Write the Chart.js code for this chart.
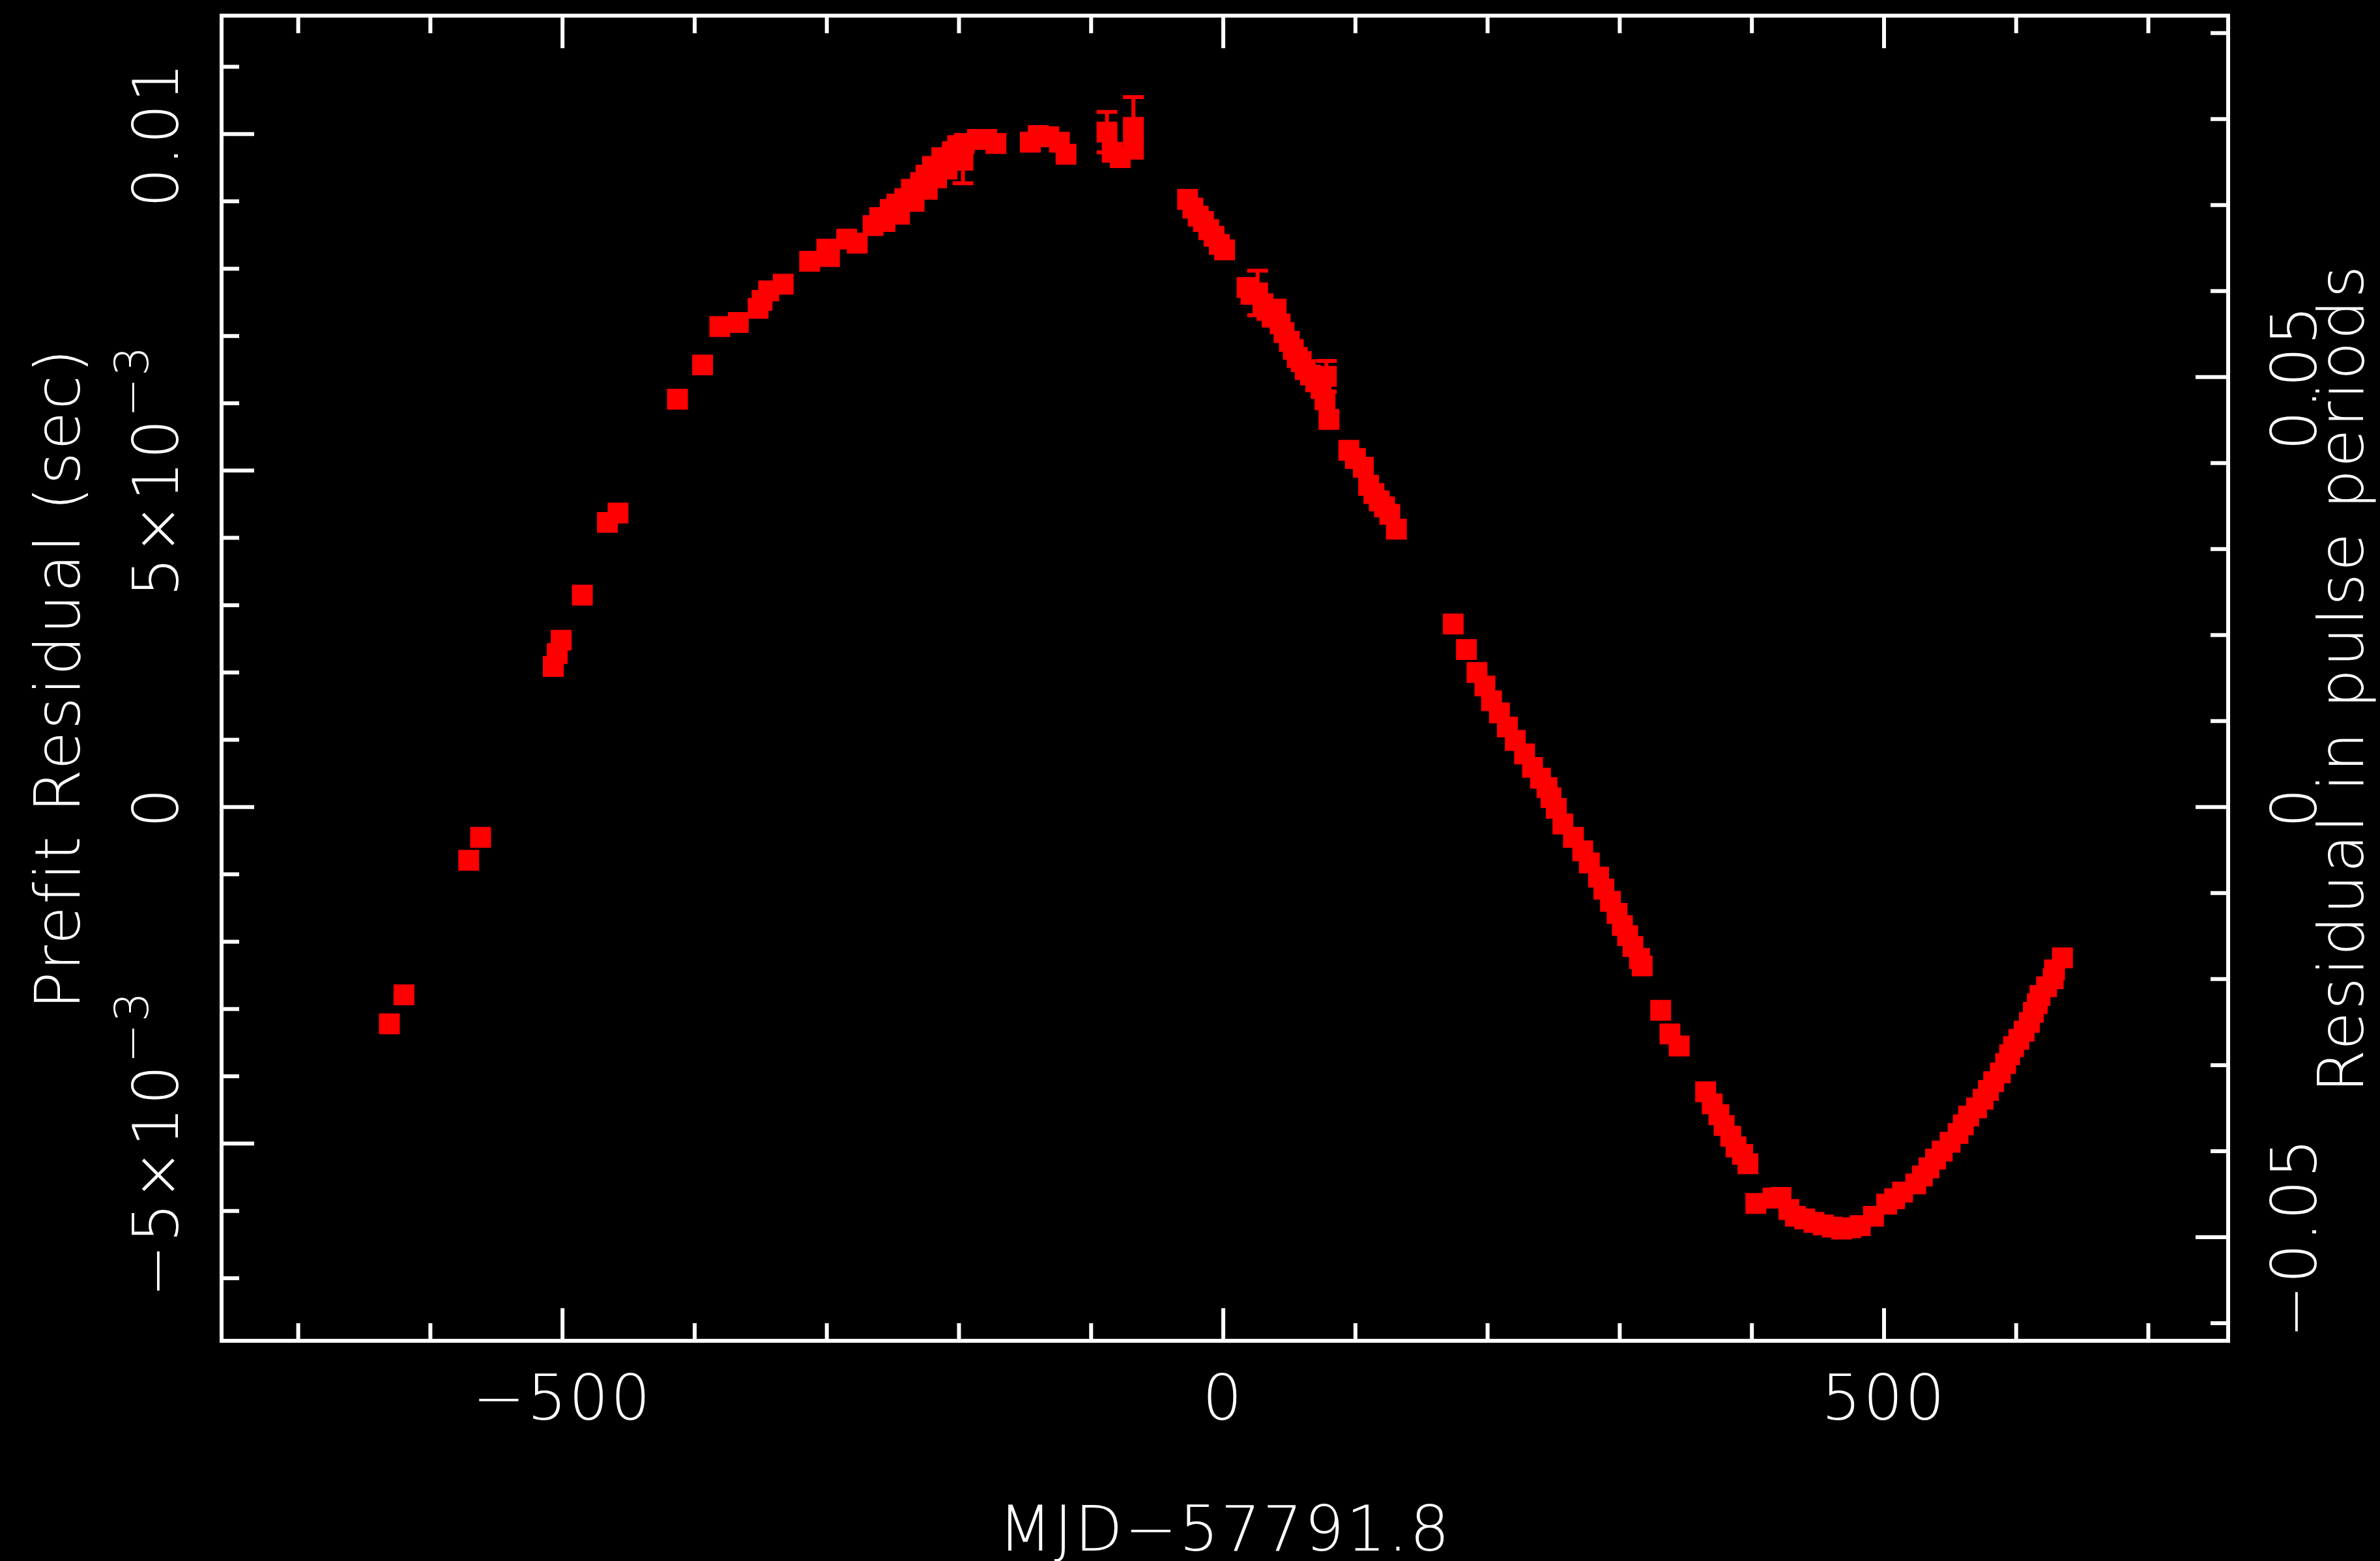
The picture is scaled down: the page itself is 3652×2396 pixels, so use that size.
<!DOCTYPE html>
<html>
<head>
<meta charset="utf-8">
<script src="https://cdn.jsdelivr.net/npm/chart.js@4.4.1/dist/chart.umd.min.js"></script>
<style>
  html, body { margin: 0; padding: 0; background: #000; }
  canvas { display: block; }
</style>
</head>
<body>
<canvas id="residualChart" width="3652" height="2396"></canvas>
<script>
// days relative to MJD 57791.8
const mjdOffset = [
  -631, -620, -571, -562, -507, -504, -501, -485,
  -466, -458, -413, -394, -381, -367, -352, -349,
  -344, -333, -313, -300, -298, -285, -277, -265,
  -260, -256, -252, -247, -245, -241, -236, -234,
  -229, -225, -224, -220, -217, -213, -209, -205,
  -201, -196, -186, -179, -172, -146, -140, -132,
  -124, -119, -84, -78, -68, -27, -23, -19,
  -15, -11, -7, -3, 1, 18, 21, 30,
  33, 37, 40, 43, 46, 50, 53, 56,
  59, 62, 66, 70, 74, 77, 80, 95,
  100, 106, 110, 114, 118, 122, 126, 131,
  174, 184, 192, 198, 203, 209, 215, 221,
  228, 234, 240, 245, 248, 252, 257, 265,
  272, 277, 284, 288, 293, 298, 302, 306,
  310, 315, 317, 331, 338, 345, 365, 370,
  375, 379, 384, 388, 393, 397, 403, 416,
  422, 428, 433, 440, 447, 454, 461, 468,
  475, 482, 492, 502, 508, 514, 524, 529,
  534, 539, 544, 550, 556, 560, 564, 570,
  575, 579, 583, 588, 592, 595, 598, 602,
  606, 610, 613, 616, 618, 623, 628, 629,
  635
];

// prefit residual, seconds
const prefitResidual = [
  -0.00322, -0.00279, -0.00079, -0.00045, 0.00209, 0.00228, 0.00248, 0.00315,
  0.00423, 0.00437, 0.00606, 0.00657, 0.00714, 0.00720, 0.00741, 0.00753,
  0.00767, 0.00777, 0.00811, 0.00829, 0.00818, 0.00844, 0.00838, 0.00864,
  0.00876, 0.00870, 0.00888, 0.00896, 0.00881, 0.00904, 0.00918, 0.00900,
  0.00928, 0.00939, 0.00918, 0.00952, 0.00935, 0.00965, 0.00948, 0.00974,
  0.00983, 0.00986, 0.00992, 0.00992, 0.00986, 0.00988, 0.00998, 0.00996,
  0.00988, 0.00970, 0.00973, 0.00965, 0.00980, 0.00903, 0.00890, 0.00878,
  0.00870, 0.00858, 0.00848, 0.00836, 0.00828, 0.00772, 0.00762, 0.00748,
  0.00738, 0.00728, 0.00740, 0.00718, 0.00705, 0.00692, 0.00680, 0.00668,
  0.00662, 0.00650, 0.00642, 0.00632, 0.00622, 0.00605, 0.00576, 0.00530,
  0.00518, 0.00505, 0.00478, 0.00466, 0.00455, 0.00446, 0.00435, 0.00413,
  0.00272, 0.00234, 0.00200, 0.00180, 0.00158, 0.00140, 0.00119, 0.00099,
  0.00079, 0.00059, 0.00043, 0.00029, 0.00014, -0.00002, -0.00025, -0.00045,
  -0.00065, -0.00083, -0.00104, -0.00122, -0.00140, -0.00158, -0.00176, -0.00191,
  -0.00207, -0.00225, -0.00236, -0.00302, -0.00337, -0.00355, -0.00423, -0.00441,
  -0.00457, -0.00473, -0.00489, -0.00505, -0.00516, -0.00530, -0.00589, -0.00581,
  -0.00580, -0.00598, -0.00608, -0.00612, -0.00617, -0.00621, -0.00624, -0.00627,
  -0.00625, -0.00622, -0.00608, -0.00590, -0.00582, -0.00572, -0.00560, -0.00548,
  -0.00536, -0.00523, -0.00511, -0.00498, -0.00485, -0.00472, -0.00459, -0.00447,
  -0.00434, -0.00421, -0.00408, -0.00395, -0.00381, -0.00368, -0.00356, -0.00345,
  -0.00333, -0.00320, -0.00305, -0.00292, -0.00280, -0.00267, -0.00255, -0.00242,
  -0.00224
];

// TOAs whose error bars stick out of the marker
const errMjd = [-197, -88, -68, 26, 78];
const errResidual = [0.00961, 0.01003, 0.01010, 0.00764, 0.00640];
const errSize = [0.00034, 0.00030, 0.00045, 0.00033, 0.00023];

const xMajorTicks = [-500, 0, 500];
const xMinorTicks = [-700, -600, -400, -300, -200, -100, 100, 200, 300, 400, 600, 700];
const xTickLabels = ['\u2212500', '0', '500'];

const yMajorTicks = [-0.005, 0, 0.005, 0.01];
const yMinorTicks = [-0.007, -0.006, -0.004, -0.003, -0.002, -0.001, 0.001, 0.002,
  0.003, 0.004, 0.006, 0.007, 0.008, 0.009, 0.011];
const yTickLabels = ['\u22125\u00d710^\u22123', '0', '5\u00d710^\u22123', '0.01'];

const periodMajorTicks = [-0.05, 0, 0.05];
const periodMinorTicks = [-0.06, -0.04, -0.03, -0.02, -0.01, 0.01, 0.02, 0.03, 0.04,
  0.06, 0.07, 0.08, 0.09];
const periodTickLabels = ['\u22120.05', '0', '0.05'];

const pulsePeriod = 0.1278;
const xRange = [-758, 760.4];
const yRange = [-0.00793, 0.01176];

const RED = '#ff0000';
const WHITE = '#ffffff';
const FONT_FAMILY = '"DejaVu Sans", "Liberation Sans", sans-serif';
const mainFont = '200 96px ' + FONT_FAMILY;
const supFont = '200 72px ' + FONT_FAMILY;

// label text with an optional ^superscript, centred on (x, y)
function drawLabel(ctx, text, x, y, rotated) {
  const parts = text.split('^');
  ctx.save();
  ctx.translate(x, y);
  if (rotated) ctx.rotate(-Math.PI / 2);
  ctx.textAlign = 'left';
  ctx.textBaseline = 'alphabetic';
  ctx.letterSpacing = '3px';
  ctx.font = mainFont;
  const wBase = ctx.measureText(parts[0]).width;
  let wSup = 0;
  if (parts[1]) {
    ctx.font = supFont;
    wSup = ctx.measureText(parts[1]).width;
  }
  const start = -(wBase + wSup) / 2;
  ctx.font = mainFont;
  ctx.fillText(parts[0], start, 0);
  if (parts[1]) {
    ctx.font = supFont;
    ctx.fillText(parts[1], start + wBase, -46);
  }
  ctx.restore();
}

const pgplotBox = {
  id: 'pgplotBox',
  beforeDraw(chart) {
    const ctx = chart.ctx;
    ctx.save();
    ctx.fillStyle = '#000';
    ctx.fillRect(0, 0, chart.width, chart.height);
    ctx.restore();
  },
  afterDatasetsDraw(chart) {
    const { ctx, scales: { x, y } } = chart;
    ctx.save();
    ctx.strokeStyle = RED;
    ctx.lineWidth = 6;
    errMjd.forEach((m, i) => {
      const px = x.getPixelForValue(m);
      const top = y.getPixelForValue(errResidual[i] + errSize[i]);
      const bot = y.getPixelForValue(errResidual[i] - errSize[i]);
      ctx.beginPath();
      ctx.moveTo(px, top);
      ctx.lineTo(px, bot);
      ctx.moveTo(px - 16, top);
      ctx.lineTo(px + 16, top);
      ctx.moveTo(px - 16, bot);
      ctx.lineTo(px + 16, bot);
      ctx.stroke();
    });
    ctx.restore();
  },
  afterDraw(chart) {
    const { ctx, chartArea: a, scales: { x, y, y2 } } = chart;
    const minorLen = 27;
    const majorLen = 50;
    ctx.save();
    ctx.strokeStyle = WHITE;
    ctx.lineWidth = 6;
    ctx.lineCap = 'butt';
    ctx.strokeRect(a.left, a.top, a.right - a.left, a.bottom - a.top);

    ctx.beginPath();
    const xTick = (v, len) => {
      const px = x.getPixelForValue(v);
      ctx.moveTo(px, a.bottom); ctx.lineTo(px, a.bottom - len);
      ctx.moveTo(px, a.top); ctx.lineTo(px, a.top + len);
    };
    xMinorTicks.forEach(v => xTick(v, minorLen));
    xMajorTicks.forEach(v => xTick(v, majorLen));
    const yTick = (v, len) => {
      const py = y.getPixelForValue(v);
      ctx.moveTo(a.left, py); ctx.lineTo(a.left + len, py);
    };
    yMinorTicks.forEach(v => yTick(v, minorLen));
    yMajorTicks.forEach(v => yTick(v, majorLen));
    const pTick = (v, len) => {
      const py = y2.getPixelForValue(v);
      ctx.moveTo(a.right, py); ctx.lineTo(a.right - len, py);
    };
    periodMinorTicks.forEach(v => pTick(v, minorLen));
    periodMajorTicks.forEach(v => pTick(v, majorLen));
    ctx.stroke();

    ctx.fillStyle = WHITE;
    xMajorTicks.forEach((v, i) => drawLabel(ctx, xTickLabels[i], x.getPixelForValue(v), a.bottom + 121, false));
    yMajorTicks.forEach((v, i) => drawLabel(ctx, yTickLabels[i], a.left - 67, y.getPixelForValue(v), true));
    periodMajorTicks.forEach((v, i) => drawLabel(ctx, periodTickLabels[i], a.right + 135, y2.getPixelForValue(v), true));

    const midX = (a.left + a.right) / 2;
    const midY = (a.top + a.bottom) / 2;
    drawLabel(ctx, 'MJD\u221257791.8', midX, a.bottom + 322, false);
    drawLabel(ctx, 'Prefit Residual (sec)', a.left - 218, midY, true);
    drawLabel(ctx, 'Residual in pulse periods', a.right + 207, midY, true);
    ctx.restore();
  }
};

new Chart(document.getElementById('residualChart'), {
  type: 'scatter',
  data: {
    datasets: [
      {
        data: mjdOffset.map((m, i) => ({ x: m, y: prefitResidual[i] })),
        pointStyle: 'rect',
        pointRadius: 22.6,
        pointBorderWidth: 0,
        pointBackgroundColor: RED,
      },
      {
        data: errMjd.map((m, i) => ({ x: m, y: errResidual[i] })),
        pointStyle: 'rect',
        pointRadius: 22.6,
        pointBorderWidth: 0,
        pointBackgroundColor: RED,
      },
    ],
  },
  options: {
    responsive: false,
    animation: false,
    devicePixelRatio: 1,
    layout: { padding: { left: 340, top: 24, right: 233, bottom: 338 } },
    plugins: { legend: { display: false }, tooltip: { enabled: false } },
    scales: {
      x: { type: 'linear', display: false, min: xRange[0], max: xRange[1] },
      y: { type: 'linear', display: false, min: yRange[0], max: yRange[1] },
      y2: { type: 'linear', display: false, min: yRange[0] / pulsePeriod, max: yRange[1] / pulsePeriod },
    },
  },
  plugins: [pgplotBox],
});
</script>
</body>
</html>
